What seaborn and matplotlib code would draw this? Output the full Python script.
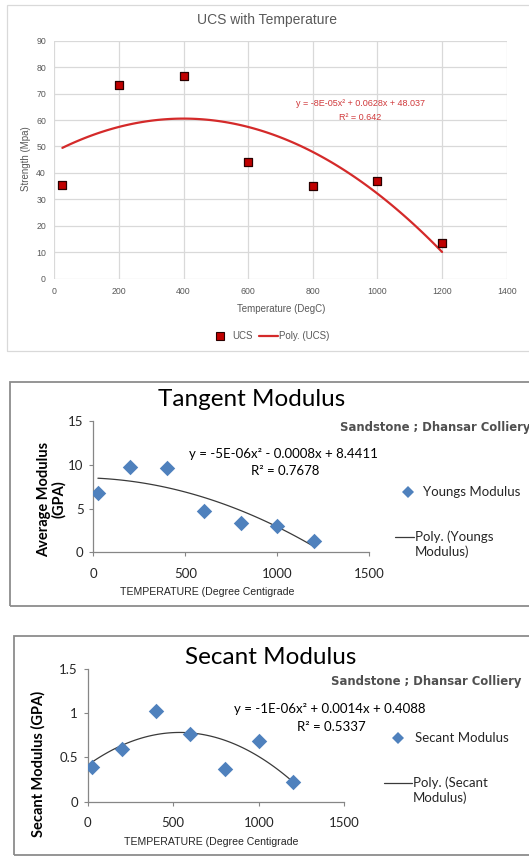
import numpy as np
import pandas as pd
import matplotlib
matplotlib.use("Agg")
import matplotlib.pyplot as plt
from matplotlib.patches import Rectangle
from matplotlib.lines import Line2D
import seaborn as sns

sns.set_theme(style="white")
plt.rcParams['font.family'] = ['Liberation Sans', 'DejaVu Sans']

# ---------------- data ----------------
temp = [25, 200, 400, 600, 800, 1000, 1200]
ucs = [35.3, 73.2, 76.8, 44.2, 34.9, 37.0, 13.6]
youngs = [6.8, 9.8, 9.6, 4.7, 3.4, 3.0, 1.3]
secant = [0.39, 0.60, 1.02, 0.76, 0.37, 0.69, 0.22]

ucs_ticks_x = [0, 200, 400, 600, 800, 1000, 1200, 1400]
ucs_ticks_y = [0, 10, 20, 30, 40, 50, 60, 70, 80, 90]
mod_ticks_x = [0, 500, 1000, 1500]
young_ticks_y = [0, 5, 10, 15]
secant_ticks_y = [0, 0.5, 1, 1.5]
secant_tick_labels = ["0", "0.5", "1", "1.5"]

ucs_eq = "y = -8E-05x² + 0.0628x + 48.037"
ucs_r2 = "R² = 0.642"
young_eq = "y = -5E-06x² - 0.0008x + 8.4411"
young_r2 = "R² = 0.7678"
secant_eq = "y = -1E-06x² + 0.0014x + 0.4088"
secant_r2 = "R² = 0.5337"

W, H = 529, 856
fig = plt.figure(figsize=(W / 100, H / 100), dpi=100)
fig.patch.set_facecolor("white")


def ax_at(left, top, right, bottom):
    return fig.add_axes([left / W, 1 - bottom / H, (right - left) / W, (bottom - top) / H])


def fx(x):
    return x / W


def fy(y):
    return 1 - y / H


def border(left, top, right, bottom, color, lw):
    fig.patches.append(Rectangle((fx(left), fy(bottom)), (right - left) / W, (bottom - top) / H,
                                 transform=fig.transFigure, fill=False, edgecolor=color,
                                 linewidth=lw, zorder=0))


def trend(x, y):
    c = np.polyfit(x, y, 2)
    xs = np.linspace(min(x), max(x), 120)
    return pd.DataFrame({"x": xs, "y": np.polyval(c, xs)})


# borders
border(7.3, 4.5, 540, 351, "#D9D9D9", 0.9)
border(9.5, 382, 540, 605.5, "#8C8C8C", 1.3)
border(13.5, 636, 540, 854.5, "#8C8C8C", 1.3)

# ---------------- panel 1: UCS ----------------
gray_txt = "#595959"
narrow = ['Liberation Sans Narrow', 'Liberation Sans', 'DejaVu Sans']
red = "#C00000"
ax1 = ax_at(54.3, 40.7, 506.7, 278.7)
df1 = pd.DataFrame({"Temperature": temp, "UCS": ucs})
t1 = trend(temp, ucs)
sns.lineplot(data=t1, x="x", y="y", ax=ax1, color="#D42A2A", linewidth=1.6, zorder=3)
sns.scatterplot(data=df1, x="Temperature", y="UCS", ax=ax1, marker="s", s=38,
                color=red, edgecolor="#2a0000", linewidth=0.9, zorder=4)
ax1.set_xlim(0, 1400)
ax1.set_ylim(0, 90)
ax1.set_xticks(ucs_ticks_x)
ax1.set_yticks(ucs_ticks_y)
ax1.grid(True, color="#D9D9D9", linewidth=0.9)
for s in ax1.spines.values():
    s.set_visible(False)
ax1.tick_params(length=0, labelsize=6.3, colors=gray_txt, pad=6)
for lab in ax1.get_xticklabels() + ax1.get_yticklabels():
    lab.set_family(narrow)
ax1.set_xlabel("")
ax1.set_ylabel("")
fig.text(fx(281), fy(309), "Temperature (DegC)", ha="center", va="center",
         fontsize=7.0, color=gray_txt, family=narrow)
fig.text(fx(26), fy(159), "Strength (Mpa)", ha="center", va="center", rotation=90,
         fontsize=7.0, color=gray_txt, family=narrow)
fig.text(fx(267), fy(20), "UCS with Temperature", ha="center", va="center",
         fontsize=10, color=gray_txt, family=narrow)
fig.text(fx(360), fy(104), ucs_eq, ha="center", va="center", fontsize=6.5,
         color="#D0393B", family=narrow)
fig.text(fx(360), fy(118), ucs_r2, ha="center", va="center", fontsize=6.5,
         color="#D0393B", family=narrow)
# legend panel 1
fig.lines.append(Line2D([fx(220)], [fy(336)], marker="s", markersize=6, color=red,
                        markeredgecolor="#2a0000", markeredgewidth=0.8,
                        transform=fig.transFigure, linestyle="none"))
fig.text(fx(232), fy(336), "UCS", ha="left", va="center", fontsize=7, color=gray_txt, family=narrow)
fig.lines.append(Line2D([fx(259), fx(278)], [fy(336), fy(336)], color="#D42A2A", linewidth=1.6,
                        transform=fig.transFigure))
fig.text(fx(279), fy(336), "Poly. (UCS)", ha="left", va="center", fontsize=7, color=gray_txt,
         family=narrow)

# ---------------- modulus panels ----------------
blue = "#4F81BD"
calib = ['Lato', 'DejaVu Sans']
arial = ['Liberation Sans', 'DejaVu Sans']
wide = ['DejaVu Sans']
axis_gray = "#868686"


def modulus_panel(ax, y, yticks, ylabels, ymax):
    df = pd.DataFrame({"Temperature": temp, "Value": y})
    t = trend(temp, y)
    sns.lineplot(data=t, x="x", y="y", ax=ax, color="#3A3A3A", linewidth=0.9, zorder=3)
    sns.scatterplot(data=df, x="Temperature", y="Value", ax=ax, marker="D", s=62,
                    color=blue, edgecolor=blue, linewidth=0, zorder=4)
    ax.set_xlim(0, 1500)
    ax.set_ylim(0, ymax)
    ax.set_xticks(mod_ticks_x)
    ax.set_yticks(yticks)
    ax.set_yticklabels(ylabels)
    ax.patch.set_alpha(0)
    for k in ["top", "right"]:
        ax.spines[k].set_visible(False)
    for k in ["left", "bottom"]:
        ax.spines[k].set_color(axis_gray)
        ax.spines[k].set_linewidth(0.9)
    ax.tick_params(axis="both", direction="out", length=3, width=0.8, color=axis_gray,
                   labelsize=9.5, labelcolor="#262626", pad=4, left=True, bottom=True)
    ax.tick_params(axis="x", pad=8)
    for lab in ax.get_xticklabels() + ax.get_yticklabels():
        lab.set_family(calib)
    ax.set_xlabel("")
    ax.set_ylabel("")
    ax.grid(False)


# panel 2: tangent modulus
ax2 = ax_at(93.3, 421, 369.3, 552.3)
modulus_panel(ax2, youngs, young_ticks_y, [str(v) for v in young_ticks_y], 15)
fig.text(fx(252), fy(399), "Tangent Modulus", ha="center", va="center", fontsize=17.5,
         color="black", family=calib)
fig.text(fx(340), fy(428), "Sandstone ; Dhansar Colliery", ha="left", va="center",
         fontsize=8.4, fontweight="bold", color="#505050", family=wide)
fig.text(fx(283), fy(454), young_eq, ha="center", va="center", fontsize=9.5, color="black", family=calib)
fig.text(fx(285), fy(471), young_r2, ha="center", va="center", fontsize=9.5, color="black", family=calib)
fig.text(fx(52), fy(499), "Average Modulus\n(GPA)", ha="center", va="center", rotation=90,
         fontsize=10.5, fontweight="bold", color="black", family=calib, linespacing=1.05)
fig.text(fx(207), fy(592), "TEMPERATURE (Degree Centigrade", ha="center", va="center",
         fontsize=7.6, color="#262626", family=arial)
fig.lines.append(Line2D([fx(408)], [fy(492)], marker="D", markersize=6, color=blue,
                        markeredgewidth=0, transform=fig.transFigure, linestyle="none"))
fig.text(fx(423), fy(492), "Youngs Modulus", ha="left", va="center", fontsize=9.5,
         color="#262626", family=calib)
fig.lines.append(Line2D([fx(395), fx(414)], [fy(537), fy(537)], color="#3A3A3A", linewidth=0.9,
                        transform=fig.transFigure))
fig.text(fx(415), fy(537), "Poly. (Youngs", ha="left", va="center", fontsize=9.5,
         color="#262626", family=calib)
fig.text(fx(415), fy(552), "Modulus)", ha="left", va="center", fontsize=9.5,
         color="#262626", family=calib)

# panel 3: secant modulus
ax3 = ax_at(87.7, 669, 344.3, 801.7)
modulus_panel(ax3, secant, secant_ticks_y, secant_tick_labels, 1.5)
fig.text(fx(271), fy(658), "Secant Modulus", ha="center", va="center", fontsize=17.5,
         color="black", family=calib)
fig.text(fx(426.5), fy(682), "Sandstone ; Dhansar Colliery", ha="center", va="center",
         fontsize=8.4, fontweight="bold", color="#505050", family=wide)
fig.text(fx(330), fy(709), secant_eq, ha="center", va="center", fontsize=9.5, color="black", family=calib)
fig.text(fx(331), fy(727), secant_r2, ha="center", va="center", fontsize=9.5, color="black", family=calib)
fig.text(fx(38), fy(764), "Secant Modulus (GPA)", ha="center", va="center", rotation=90,
         fontsize=10.5, fontweight="bold", color="black", family=calib)
fig.text(fx(211), fy(842), "TEMPERATURE (Degree Centigrade", ha="center", va="center",
         fontsize=7.6, color="#262626", family=arial)
fig.lines.append(Line2D([fx(398)], [fy(738)], marker="D", markersize=6, color=blue,
                        markeredgewidth=0, transform=fig.transFigure, linestyle="none"))
fig.text(fx(415), fy(738), "Secant Modulus", ha="left", va="center", fontsize=9.5,
         color="#262626", family=calib)
fig.lines.append(Line2D([fx(384), fx(412)], [fy(783), fy(783)], color="#3A3A3A", linewidth=0.9,
                        transform=fig.transFigure))
fig.text(fx(413), fy(783), "Poly. (Secant", ha="left", va="center", fontsize=9.5,
         color="#262626", family=calib)
fig.text(fx(413), fy(798), "Modulus)", ha="left", va="center", fontsize=9.5,
         color="#262626", family=calib)

fig.savefig("out.png", dpi=100, facecolor="white")
